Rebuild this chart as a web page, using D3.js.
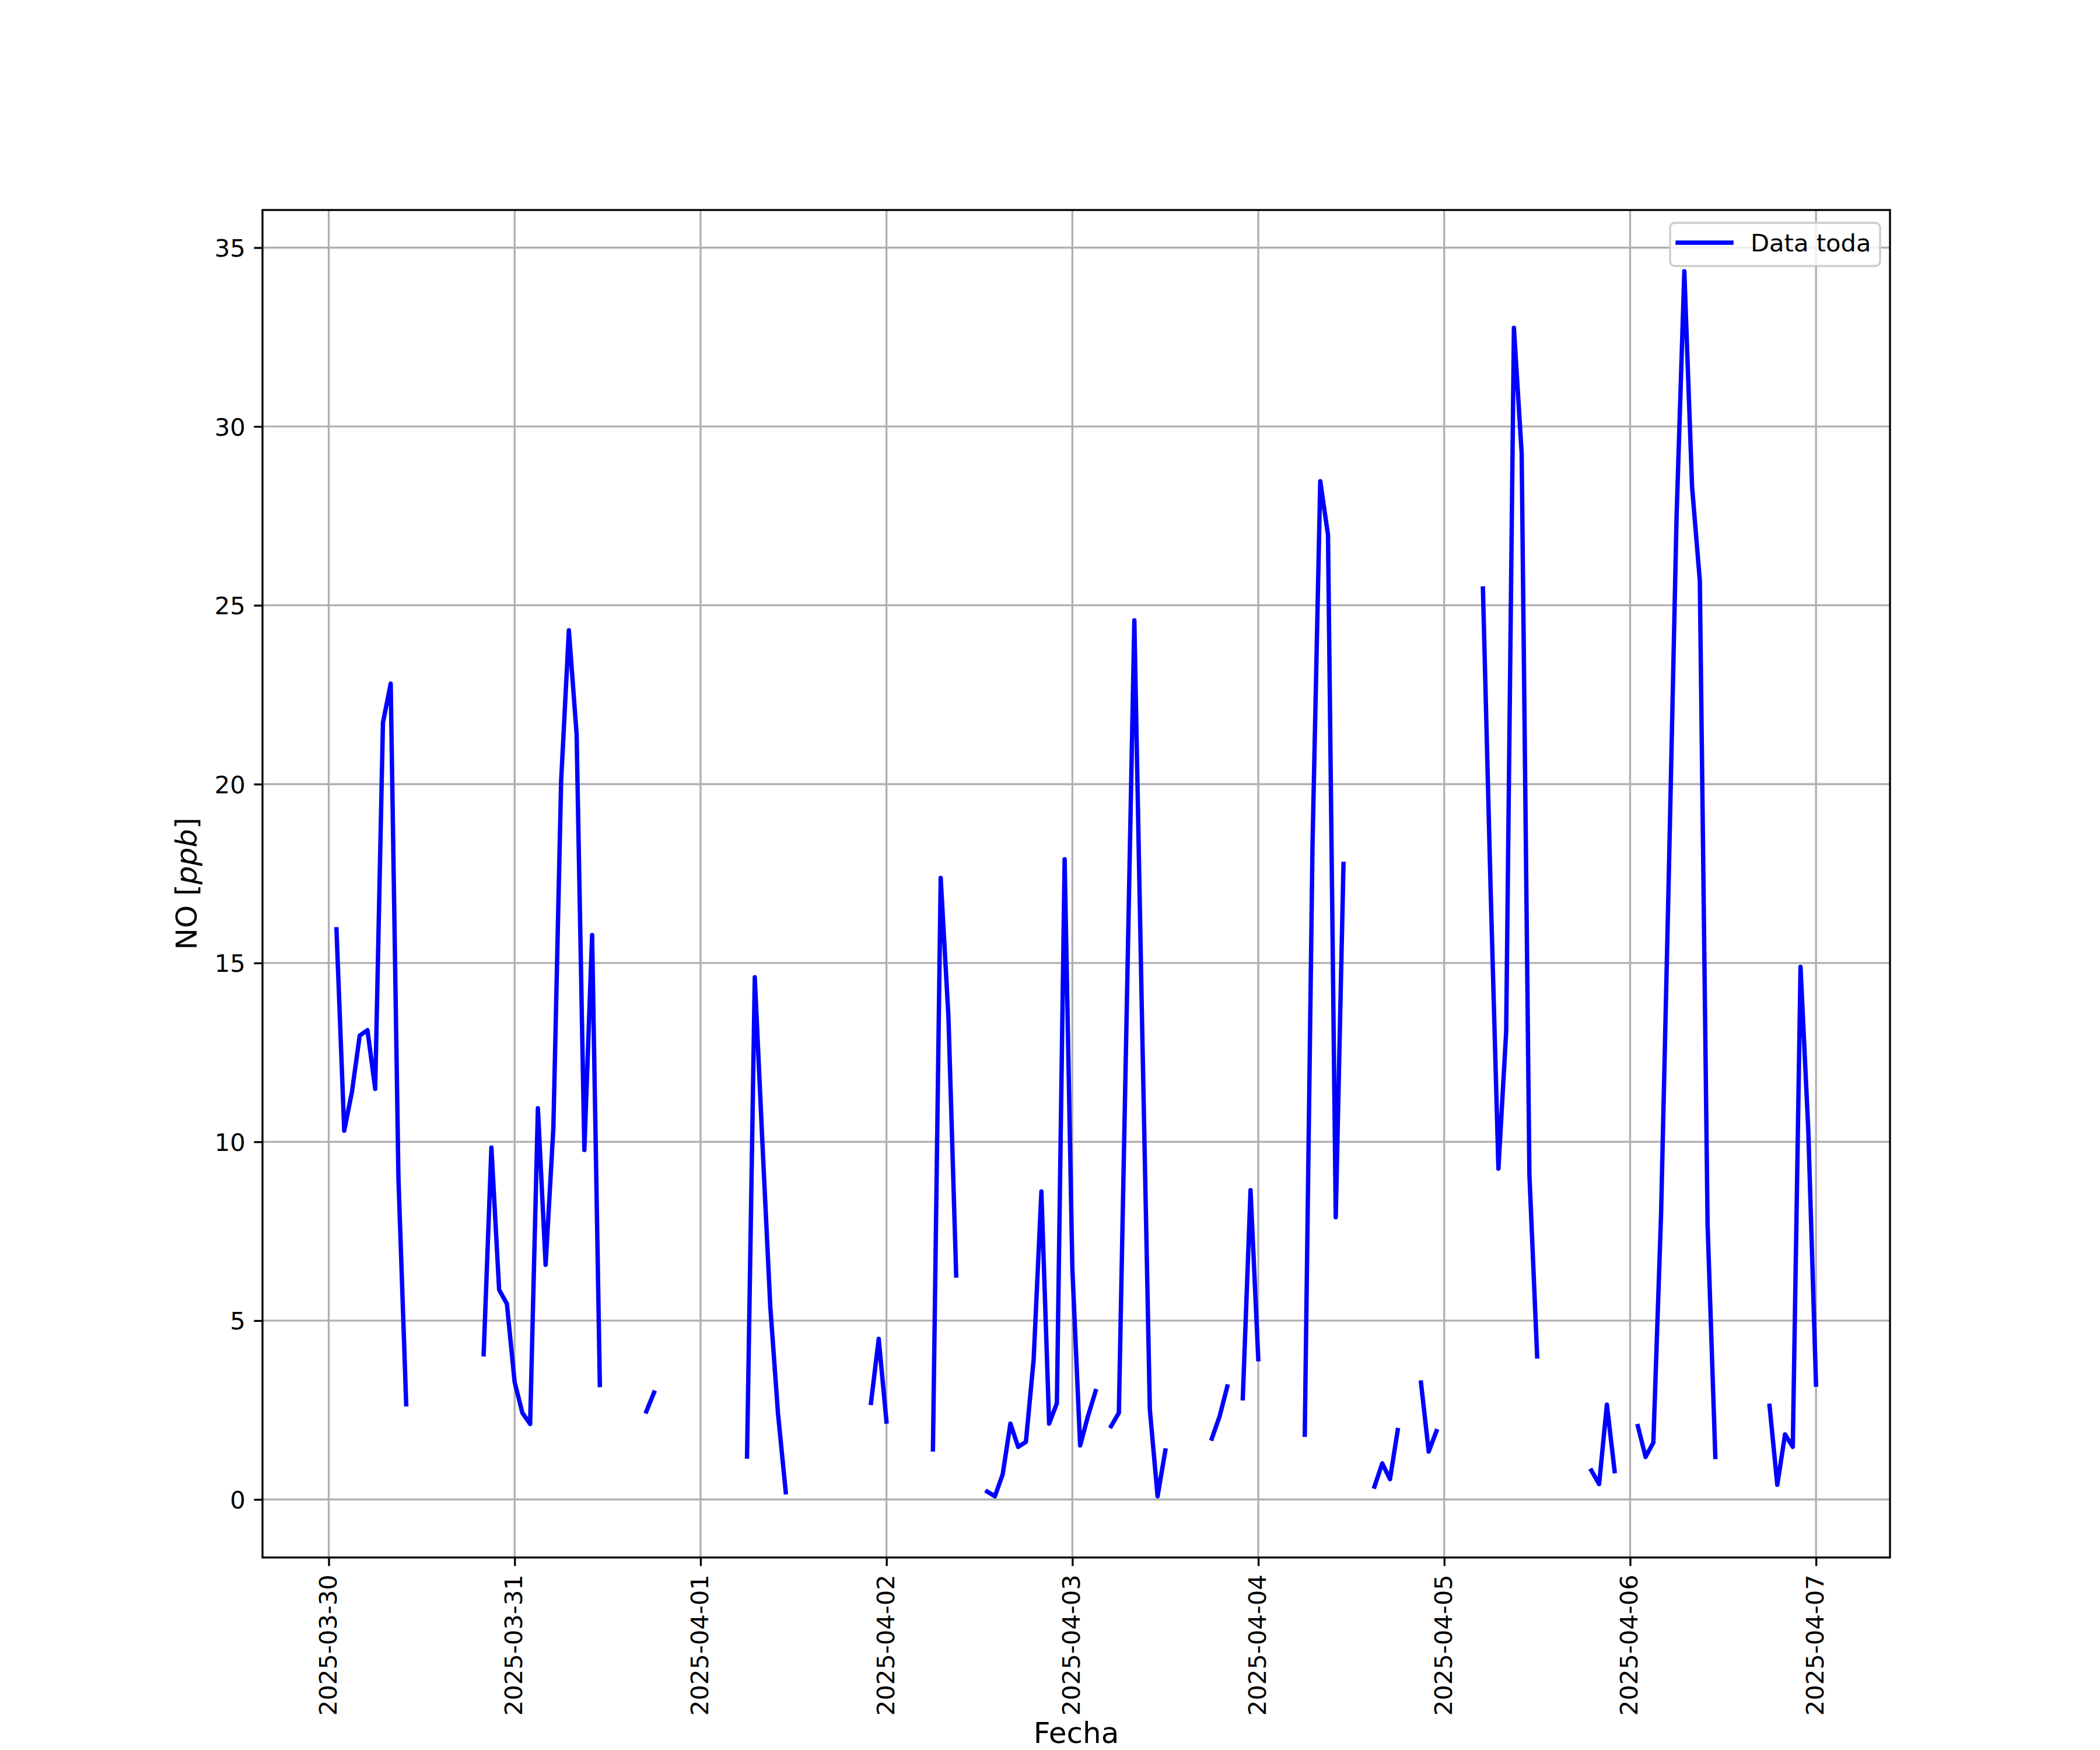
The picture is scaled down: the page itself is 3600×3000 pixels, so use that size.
<!DOCTYPE html>
<html>
<head>
<meta charset="utf-8">
<script src="https://cdn.jsdelivr.net/npm/d3@7"></script>
<style>
  html, body { margin: 0; padding: 0; background: #ffffff; }
  svg { display: block; }
  text { font-family: "DejaVu Sans", sans-serif; fill: #000; }
</style>
</head>
<body>
<script>
// ---------------- DATA (hourly NO [ppb], null = no data) ----------------
// Each day array holds hours 00..23 of that day.
const dayLabels = ["2025-03-30", "2025-03-31", "2025-04-01", "2025-04-02",
                   "2025-04-03", "2025-04-04", "2025-04-05", "2025-04-06", "2025-04-07"];

const no_0330 = [null, 15.94, 10.31, 11.4, 12.97, 13.12, 11.48, 21.72, 22.81, 8.98, 2.66,
                 null, null, null, null, null, null, null, null, null,
                 4.06, 9.84, 5.86, 5.47];
const no_0331 = [3.28, 2.42, 2.11, 10.94, 6.56, 10.39, 20.08, 24.3, 21.4, 9.77, 15.78, 3.2,
                 null, null, null, null, null, 2.46, 2.99,
                 null, null, null, null, null];
const no_0401 = [null, null, null, null, null, null, 1.2, 14.6, 9.9, 5.4, 2.4, 0.2,
                 null, null, null, null, null, null, null, null, null, null,
                 2.7, 4.49];
const no_0402 = [2.18, null, null, null, null, null, 1.4, 17.38, 13.5, 6.26,
                 null, null, null, 0.22, 0.09, 0.70, 2.12, 1.47, 1.61, 3.91, 8.61, 2.12, 2.69, 17.9];
const no_0403 = [6.45, 1.51, 2.32, 3.03, null, 2.05, 2.42, 13.5, 24.58, 13.3, 2.52, 0.09, 1.37,
                 null, null, null, null, null, 1.70, 2.32, 3.16, null, 2.83, 8.65];
const no_0404 = [3.92, null, null, null, null, null, 1.81, 18.3, 28.47, 26.97, 7.89, 17.77,
                 null, null, null, 0.36, 1.01, 0.57, 1.94, null, null, 3.27, 1.34, 1.91];
const no_0405 = [null, null, null, null, null, 25.47, 17.0, 9.25, 13.08, 32.76, 29.25, 9.08, 4.0,
                 null, null, null, null, null, null, 0.81, 0.43, 2.65, 0.79, null];
const no_0406 = [null, 2.05, 1.19, 1.59, 8.0, 17.5, 27.5, 34.34, 28.31, 25.69, 7.7, 1.19,
                 null, null, null, null, null, null, 2.62, 0.41, 1.82, 1.47, 14.89, 10.34];
const no_0407 = [3.21];

const yTicks = [0, 5, 10, 15, 20, 25, 30, 35];
const seriesName = "Data toda";
const xTitle = "Fecha";

// ---------------- BUILD SERIES ----------------
const parseDay = d3.timeParse("%Y-%m-%d");
const dayArrays = [no_0330, no_0331, no_0401, no_0402, no_0403, no_0404, no_0405, no_0406, no_0407];
const data = [];
dayArrays.forEach((arr, i) => {
  const base = parseDay(dayLabels[i]);
  arr.forEach((v, h) => data.push({ date: d3.timeHour.offset(base, h), v: v }));
});
const valid = data.filter(d => d.v != null);

// ---------------- LAYOUT ----------------
const W = 3600, H = 3000;
const L = 450, R = 3240, T = 360, B = 2670;
const lw = 3.33;            // 0.8pt at 300 dpi
const tickLen = 14.6;       // 3.5pt
const fsTick = 41.67;       // 10pt
const fsLabel = 50;         // 12pt

const svg = d3.select("body").append("svg").attr("width", W).attr("height", H);
svg.append("rect").attr("width", W).attr("height", H).attr("fill", "#ffffff");

// scales with 5% margins like matplotlib autoscale
const tExt = d3.extent(valid, d => +d.date);
const tPad = (tExt[1] - tExt[0]) * 0.05;
const x = d3.scaleTime().domain([new Date(tExt[0] - tPad), new Date(tExt[1] + tPad)]).range([L, R]);
const vExt = d3.extent(valid, d => d.v);
const vPad = (vExt[1] - vExt[0]) * 0.05;
const y = d3.scaleLinear().domain([vExt[0] - vPad, vExt[1] + vPad]).range([B, T]);

const xTickDates = dayLabels.map(parseDay);

// grid
const grid = svg.append("g");
grid.selectAll("line.gx").data(xTickDates).enter().append("line")
  .attr("x1", d => x(d)).attr("x2", d => x(d)).attr("y1", T).attr("y2", B)
  .attr("stroke", "#b0b0b0").attr("stroke-width", lw);
grid.selectAll("line.gy").data(yTicks).enter().append("line")
  .attr("x1", L).attr("x2", R).attr("y1", d => y(d)).attr("y2", d => y(d))
  .attr("stroke", "#b0b0b0").attr("stroke-width", lw);

// data line
const line = d3.line().defined(d => d.v != null).x(d => x(d.date)).y(d => y(d.v));
svg.append("path").datum(data).attr("d", line)
  .attr("fill", "none").attr("stroke", "#0000ff").attr("stroke-width", 7.5)
  .attr("stroke-linejoin", "round").attr("stroke-linecap", "square");

// spines
svg.append("rect").attr("x", L).attr("y", T).attr("width", R - L).attr("height", B - T)
  .attr("fill", "none").attr("stroke", "#000").attr("stroke-width", lw);

// x axis
const fmt = d3.timeFormat("%Y-%m-%d");
const gx = svg.append("g").attr("transform", `translate(0,${B})`)
  .call(d3.axisBottom(x).tickValues(xTickDates).tickFormat(fmt).tickSize(tickLen).tickPadding(0));
gx.select(".domain").remove();
gx.selectAll(".tick line").attr("stroke", "#000").attr("stroke-width", lw);
gx.selectAll(".tick text")
  .attr("y", 0).attr("dy", "0.3em")
  .attr("transform", `translate(0,${tickLen + 14.6}) rotate(-90)`)
  .attr("text-anchor", "end")
  .style("font-family", '"DejaVu Sans", sans-serif')
  .style("font-size", fsTick + "px").attr("fill", "#000");

// y axis
const gy = svg.append("g").attr("transform", `translate(${L},0)`)
  .call(d3.axisLeft(y).tickValues(yTicks).tickFormat(d3.format("d")).tickSize(tickLen).tickPadding(14.6));
gy.select(".domain").remove();
gy.selectAll(".tick line").attr("stroke", "#000").attr("stroke-width", lw);
gy.selectAll(".tick text")
  .attr("dy", "0.36em")
  .style("font-family", '"DejaVu Sans", sans-serif')
  .style("font-size", fsTick + "px").attr("fill", "#000");

// axis titles
svg.append("text").attr("x", (L + R) / 2).attr("y", 2988)
  .attr("text-anchor", "middle").style("font-size", fsLabel + "px").text(xTitle);

const yl = svg.append("text")
  .attr("transform", `translate(337,${(T + B) / 2}) rotate(-90)`)
  .attr("text-anchor", "middle").style("font-size", fsLabel + "px");
yl.append("tspan").text("NO [");
yl.append("tspan").style("font-style", "italic").text("ppb");
yl.append("tspan").text("]");

// legend
const lg = svg.append("g");
lg.append("rect").attr("x", 2863).attr("y", 382).attr("width", 360).attr("height", 74)
  .attr("rx", 8).attr("ry", 8)
  .attr("fill", "#ffffff").attr("fill-opacity", 0.8)
  .attr("stroke", "#cccccc").attr("stroke-width", lw);
lg.append("line").attr("x1", 2876).attr("x2", 2968).attr("y1", 416).attr("y2", 416)
  .attr("stroke", "#0000ff").attr("stroke-width", 7.5).attr("stroke-linecap", "square");
lg.append("text").attr("x", 3001).attr("y", 431).style("font-size", fsTick + "px").text(seriesName);
</script>
</body>
</html>
